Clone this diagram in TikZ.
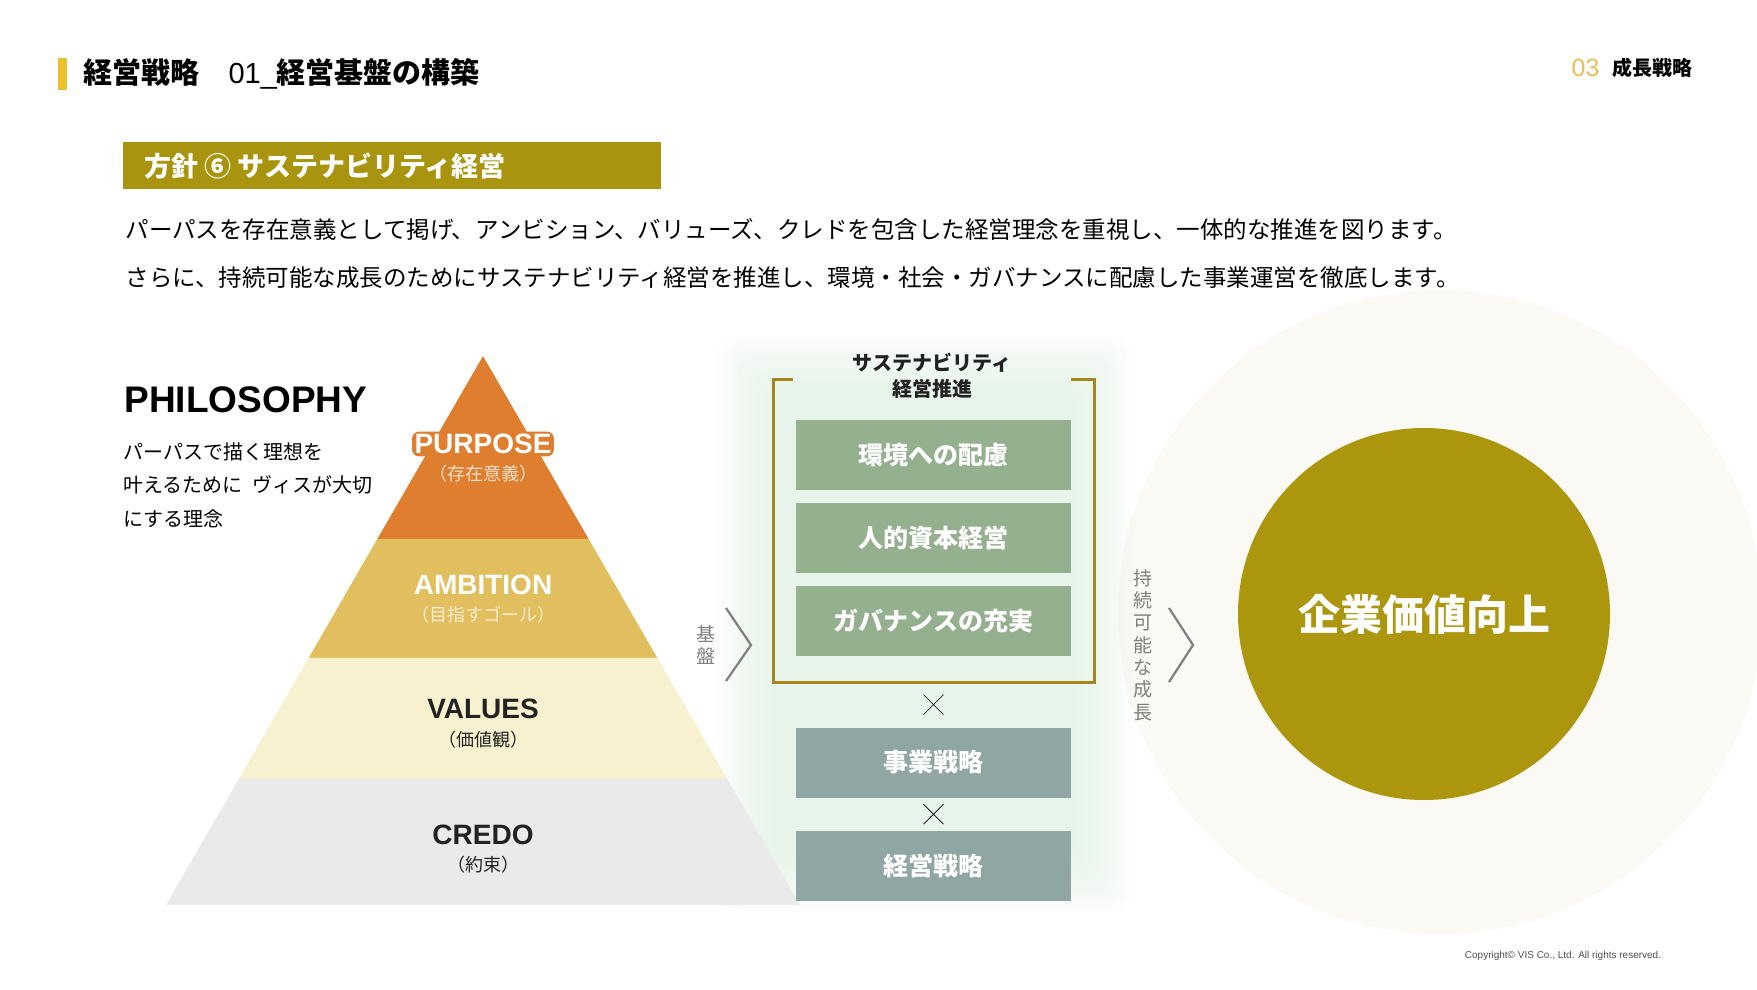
\documentclass[tikz,border=0pt]{standalone}
\usepackage{fontspec}
\setmainfont{Noto Sans CJK JP}
\newfontfamily\latinfont{Liberation Sans}
\usetikzlibrary{positioning, calc}

\definecolor{barYellow}{HTML}{EBC02C}
\definecolor{numGold}{HTML}{E9BE5A}
\definecolor{olive}{HTML}{A8940E}
\definecolor{pyrOrange}{HTML}{DE7E2E}
\definecolor{pyrGold}{HTML}{E2BF5E}
\definecolor{pyrCream}{HTML}{F7F1CF}
\definecolor{pyrGray}{HTML}{EAEAEA}
\definecolor{sage}{HTML}{94B08E}
\definecolor{slate}{HTML}{8FA6A4}
\definecolor{bracketBrown}{HTML}{A8841E}
\definecolor{valueOlive}{HTML}{AB960E}
\definecolor{paleDisc}{HTML}{FAF9F4}
\definecolor{glowGreen}{HTML}{DCEFDF}
\definecolor{chevGray}{HTML}{7F7F7F}
\definecolor{inkDark}{HTML}{222222}

\newcommand{\fsz}[2]{\fontsize{#1}{#2}\selectfont}

\tikzset{
  greenbox/.style={fill=sage, text=white, minimum width=275pt, minimum height=70pt,
    inner sep=0pt, font=\fsz{25}{29}\bfseries},
  slatebox/.style={greenbox, fill=slate},
  pyrlabel/.style={font=\latinfont\fsz{28}{32}\bfseries},
  pyrsub/.style={font=\fsz{18}{22}},
  vlabel/.style={text=chevGray, align=center, font=\fsz{19}{22.3}},
  chevron/.style={draw=chevGray, line width=2.2pt},
  crossmark/.style={draw=inkDark, line width=0.8pt}
}

\begin{document}
\begin{tikzpicture}[x=1pt, y=-1pt]
\useasboundingbox (0,0) rectangle (1757,989);

% --- Intestazione
\fill[barYellow] (58,58) rectangle (67,90);
\node[anchor=west, font=\fsz{29}{34}\bfseries] (title) at (80,74)
  {経営戦略\hspace{1em}{\mdseries\latinfont 01\_}経営基盤の構築};
\node[anchor=east, font=\fsz{20}{24}\bfseries] (section) at (1696,68) {成長戦略};
\node[anchor=east, text=numGold, font=\latinfont\fsz{25}{28}, left=6pt of section] (secnum) {03};

% --- Fascia del titolo
\fill[olive] (123,142) rectangle (661,189);
\node[anchor=west, text=white, font=\fsz{27}{32}\bfseries] (banner) at (141,166)
  {方針 ⑥ サステナビリティ経営};

% --- Testo introduttivo
\node[anchor=west, font=\fsz{23.5}{28}] (line1) at (122,229)
  {パーパスを存在意義として掲げ、アンビション、バリューズ、クレドを包含した経営理念を重視し、一体的な推進を図ります。};
\node[anchor=west, font=\fsz{23.5}{28}] (line2) at (122,278)
  {さらに、持続可能な成長のためにサステナビリティ経営を推進し、環境・社会・ガバナンスに配慮した事業運営を徹底します。};

% --- Sfondi sfumati
\fill[paleDisc] (1440,612) circle (322);
\foreach \i in {0,...,11}
  \fill[glowGreen, opacity=0.09, rounded corners=20pt]
    ({717+\i*5},{336+\i*5}) rectangle ({1132-\i*5},{913-\i*5});

% --- Piramide
\coordinate (apex) at (483,356);
\coordinate (bl) at (166,905);
\coordinate (br) at (800,905);
\foreach \ta/\tb/\col in {0/0.3333/pyrOrange, 0.3333/0.55/pyrGold, 0.55/0.7705/pyrCream, 0.7705/1/pyrGray}
  \fill[\col] ($(apex)!\ta!(bl)$) -- ($(apex)!\ta!(br)$) -- ($(apex)!\tb!(br)$) -- ($(apex)!\tb!(bl)$) -- cycle;

% --- Etichette della piramide
\node[pyrlabel, text=white, fill=pyrOrange, rounded corners=7pt, inner sep=2.5pt] (purpose) at (483,444) {PURPOSE};
\node[pyrsub, text=white!75!pyrOrange, below=5pt of purpose] (purposeSub) {（存在意義）};

\node[pyrlabel, text=white] (ambition) at (483,585) {AMBITION};
\node[pyrsub, text=white!70!pyrGold, below=4pt of ambition] (ambitionSub) {（目指すゴール）};

\node[pyrlabel, text=inkDark] (values) at (483,709) {VALUES};
\node[pyrsub, text=inkDark, below=5pt of values] (valuesSub) {（価値観）};

\node[pyrlabel, text=inkDark] (credo) at (483,835) {CREDO};
\node[pyrsub, text=inkDark, below=4pt of credo] (credoSub) {（約束）};

% --- PHILOSOPHY
\node[anchor=west, font=\latinfont\fsz{37}{40}\bfseries] (philo) at (121,400) {PHILOSOPHY};
\node[anchor=north west, align=left, font=\fsz{20}{33.5}, inner sep=0pt] (philoText) at (123,442)
  {パーパスで描く理想を\\叶えるために\hspace{0.5em}ヴィスが大切\\にする理念};

% --- Colonna centrale: sostenibilita
\draw[bracketBrown, line width=3pt] (793,379) -- (773,379) -- (773,682) -- (1094,682) -- (1094,379) -- (1071,379);
\node[align=center, text=inkDark, font=\fsz{20}{26}\bfseries] (sustTitle) at (932,376)
  {サステナビリティ\\経営推進};
\node[greenbox] (env) at (933.5,455) {環境への配慮};
\node[greenbox, below=13pt of env] (human) {人的資本経営};
\node[greenbox, below=12pt of human] (gov) {ガバナンスの充実};
\coordinate (bracketBottom) at (933.5,682);
\node[slatebox] (biz) at (933.5,762.5) {事業戦略};
\node[slatebox, below=33pt of biz] (mgmt) {経営戦略};

% --- Segni di moltiplicazione
\coordinate (x1) at ($(bracketBottom)!0.5!(biz.north)$);
\coordinate (x2) at ($(biz.south)!0.5!(mgmt.north)$);
\foreach \c in {x1, x2}
  \draw[crossmark] ($(\c)+(-10,-10)$) -- ($(\c)+(10,10)$) ($(\c)+(-10,10)$) -- ($(\c)+(10,-10)$);

% --- Frecce a chevron
\node[vlabel] (base) at (706,645) {基\\盤};
\draw[chevron] (726,608) -- (751,645) -- (726,681);
\node[vlabel] (growth) at (1143,645) {持\\続\\可\\能\\な\\成\\長};
\draw[chevron] (1169,608) -- (1193,645) -- (1169,682);

% --- Valore d'impresa
\node[circle, fill=valueOlive, minimum size=372pt, inner sep=0pt, text=white,
  font=\fsz{42}{48}\bfseries] (value) at (1424,614) {企業価値向上};

% --- Copyright
\node[text=inkDark!80, font=\latinfont\fsz{10}{12}] (copy) at (1563,956)
  {Copyright© VIS Co., Ltd. All rights reserved.};
\end{tikzpicture}
\end{document}
